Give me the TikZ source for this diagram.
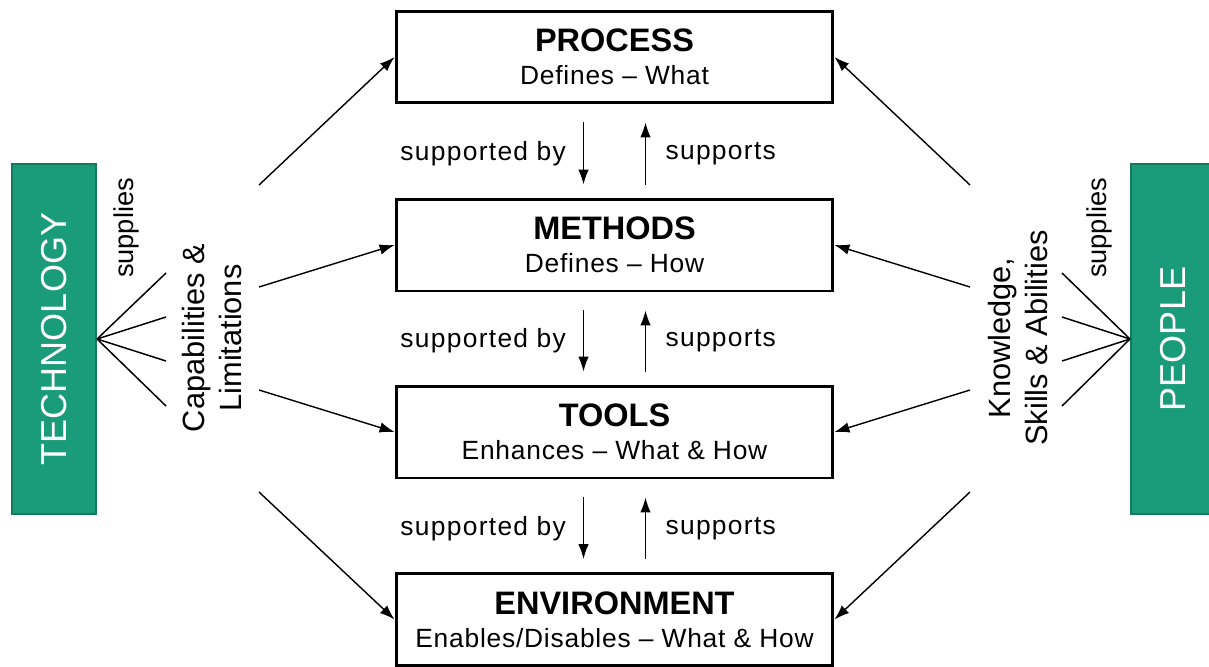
\documentclass[tikz,border=0pt]{standalone}
\usepackage{fontspec}
\setmainfont{Liberation Sans}
\newfontfamily\spacedfont[LetterSpace=5]{Liberation Sans}
\newfontfamily\subfont[LetterSpace=3]{Liberation Sans}
\usepackage{tikz}
\usetikzlibrary{arrows.meta}
\definecolor{pillarfill}{RGB}{26,156,123}
\definecolor{pillaredge}{RGB}{20,122,94}

\begin{document}
\begin{tikzpicture}[x=0.02cm,y=-0.02cm,
  layer/.style={draw,line width=1.7pt,minimum width=8.74cm,minimum height=1.84cm,align=center,inner sep=0pt,
    font=\subfont\fontsize{15}{18.7}\selectfont},
  pillar/.style={draw=pillaredge,line width=1.2pt,fill=pillarfill,text=white,rotate=90,
    minimum width=7cm,minimum height=1.68cm,inner sep=0pt,font=\fontsize{20.5}{24}\selectfont},
  flow/.style={-{Latex[length=8.5pt,width=6pt]},line width=0.8pt},
  lab/.style={inner sep=0pt,font=\spacedfont\fontsize{15}{18}\selectfont},
  side/.style={rotate=90,align=center,inner sep=0pt,font=\fontsize{17.5}{20.6}\selectfont}]
  \useasboundingbox (0,0) rectangle (1209,666);

  \node[layer] (process) at (614.5,57) {{\rmfamily\fontsize{18.5}{18.7}\selectfont\bfseries PROCESS}\\Defines – What};
  \node[layer] (methods) at (614.5,245) {{\rmfamily\fontsize{18.5}{18.7}\selectfont\bfseries METHODS}\\Defines – How};
  \node[layer] (tools) at (614.5,432) {{\rmfamily\fontsize{18.5}{18.7}\selectfont\bfseries TOOLS}\\Enhances – What \& How};
  \node[layer] (environment) at (614.5,619.5) {{\rmfamily\fontsize{18.5}{18.7}\selectfont\bfseries ENVIRONMENT}\\Enables/Disables – What \& How};

  \node[pillar] (technology) at (54,339) {TECHNOLOGY};
  \node[pillar] (people) at (1173,339) {PEOPLE};

  \node[side] (capabilities) at (212,338) {Capabilities \&\\Limitations};
  \node[side] (knowledge) at (1018,338) {Knowledge,\\Skills \& Abilities};
  \node[lab,rotate=90,font=\fontsize{15.5}{18}\selectfont] (techsupplies) at (126,228) {supplies};
  \node[lab,rotate=90,font=\fontsize{15.5}{18}\selectfont] (peoplesupplies) at (1099,228) {supplies};

  \coordinate (tfan1) at (166,273);
  \coordinate (tfan2) at (166,317);
  \coordinate (tfan3) at (166,361);
  \coordinate (tfan4) at (166,406);
  \coordinate (pfan1) at (1062,273);
  \coordinate (pfan2) at (1062,317);
  \coordinate (pfan3) at (1062,361);
  \coordinate (pfan4) at (1062,406);
  \draw[line width=0.85pt] (technology.south) -- (tfan1);
  \draw[line width=0.85pt] (technology.south) -- (tfan2);
  \draw[line width=0.85pt] (technology.south) -- (tfan3);
  \draw[line width=0.85pt] (technology.south) -- (tfan4);
  \draw[line width=0.85pt] (people.north) -- (pfan1);
  \draw[line width=0.85pt] (people.north) -- (pfan2);
  \draw[line width=0.85pt] (people.north) -- (pfan3);
  \draw[line width=0.85pt] (people.north) -- (pfan4);

  \coordinate (tout1) at (259,185);
  \coordinate (tout2) at (259,287);
  \coordinate (tout3) at (259,390);
  \coordinate (tout4) at (259,492);
  \coordinate (pout1) at (970,185);
  \coordinate (pout2) at (970,287);
  \coordinate (pout3) at (970,390);
  \coordinate (pout4) at (970,492);
  \draw[flow] (tout1) -- (process.west);
  \draw[flow] (tout2) -- (methods.west);
  \draw[flow] (tout3) -- (tools.west);
  \draw[flow] (tout4) -- (environment.west);
  \draw[flow] (pout1) -- (process.east);
  \draw[flow] (pout2) -- (methods.east);
  \draw[flow] (pout3) -- (tools.east);
  \draw[flow] (pout4) -- (environment.east);

  \draw[flow] ([shift={(-31,18)}]process.south) -- node[lab,left=9.6pt] {supported by} ([shift={(-31,-13)}]methods.north);
  \draw[flow] ([shift={(31,-13)}]methods.north) -- node[lab,right=11pt] {supports} ([shift={(31,18)}]process.south);
  \draw[flow] ([shift={(-31,18)}]methods.south) -- node[lab,left=9.6pt] {supported by} ([shift={(-31,-13)}]tools.north);
  \draw[flow] ([shift={(31,-13)}]tools.north) -- node[lab,right=11pt] {supports} ([shift={(31,18)}]methods.south);
  \draw[flow] ([shift={(-31,18)}]tools.south) -- node[lab,left=9.6pt] {supported by} ([shift={(-31,-13)}]environment.north);
  \draw[flow] ([shift={(31,-13)}]environment.north) -- node[lab,right=11pt] {supports} ([shift={(31,18)}]tools.south);
\end{tikzpicture}
\end{document}
